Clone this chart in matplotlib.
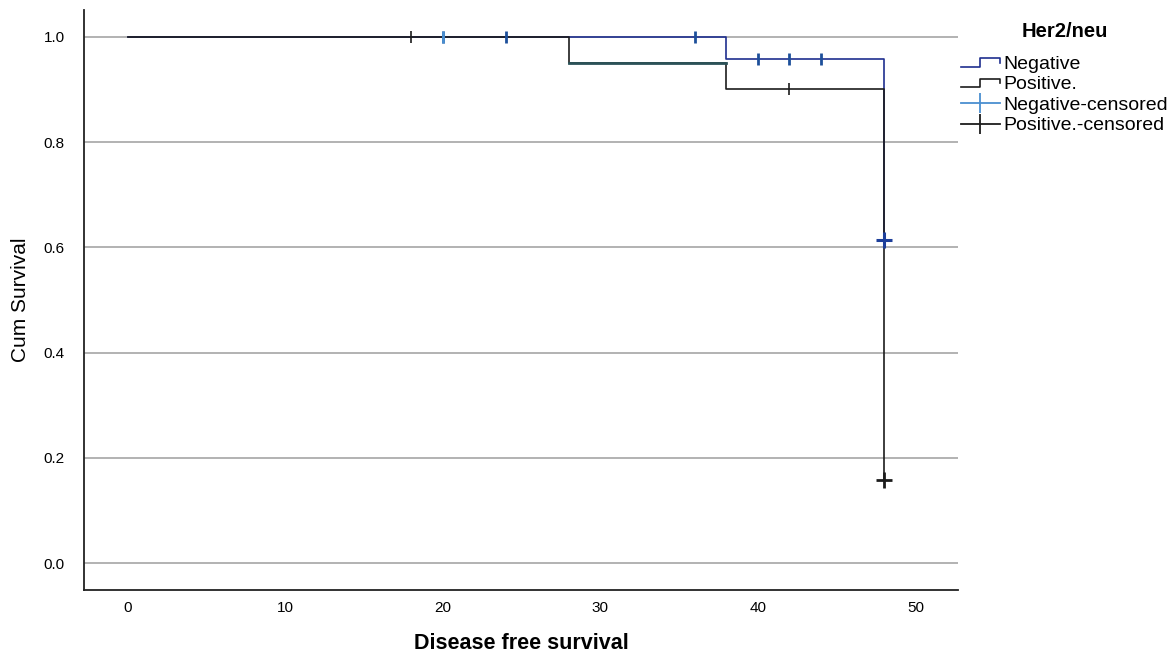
import matplotlib
matplotlib.use("Agg")
import matplotlib.pyplot as plt
from matplotlib.lines import Line2D
from matplotlib.legend_handler import HandlerBase

plt.rcParams['font.family'] = ['Liberation Sans', 'DejaVu Sans']

# Kaplan-Meier steps
neg_times = [0, 38, 48, 48]
neg_surv = [1.0, 0.957, 0.614, 0.614]
pos_times = [0, 28, 38, 48, 48]
pos_surv = [1.0, 0.950, 0.900, 0.158, 0.158]

# censored observations
neg_cens_t = [20, 24, 36, 40, 42, 44]
neg_cens_s = [1.0, 1.0, 1.0, 0.957, 0.957, 0.957]
neg_end_t = [48]
neg_end_s = [0.614]
pos_cens_t = [18, 42]
pos_cens_s = [1.0, 0.900]
pos_end_t = [48]
pos_end_s = [0.158]

xticks = [0, 10, 20, 30, 40, 50]
yticks = [0.0, 0.2, 0.4, 0.6, 0.8, 1.0]

neg_col = '#1f2f8f'
pos_col = '#1c1c1c'
cens_col = '#4a8fd0'


class StepHandler(HandlerBase):
    def create_artists(self, legend, orig, xd, yd, w, h, fontsize, trans):
        y0 = yd + h * 0.15
        y1 = yd + h * 0.8
        xs = [xd, xd + w * 0.5, xd + w * 0.5, xd + w, xd + w]
        ys = [y0, y0, y1, y1, y0 + h * 0.3]
        ln = Line2D(xs, ys, color=orig.get_color(), lw=1.2, transform=trans)
        return [ln]


fig = plt.figure(figsize=(11.73, 6.58), dpi=100)
ax = fig.add_axes([0.0716, 0.1033, 0.745, 0.8815])

for yv in yticks:
    ax.axhline(yv, color='#a6a6a6', lw=1.2, zorder=0)

ax.step(neg_times, neg_surv, where='post', color=neg_col, lw=1.2, zorder=2)
ax.step(pos_times, pos_surv, where='post', color=pos_col, lw=1.2, zorder=3)
# shared segment after first drop looks darker/teal
ax.plot([28, 38], [0.950, 0.950], color='#2b5258', lw=2.0, zorder=3)

ax.plot(neg_cens_t, neg_cens_s, ls='none', marker='|', ms=9, mew=2,
        color='#1d4f9a', zorder=4)
ax.plot([20], [1.0], ls='none', marker='|', ms=9, mew=2, color=cens_col, zorder=5)
ax.plot(pos_cens_t, pos_cens_s, ls='none', marker='|', ms=9, mew=1.2,
        color=pos_col, zorder=4)
ax.plot(neg_end_t, neg_end_s, ls='none', marker='+', ms=11, mew=2.2,
        color='#1d3f9a', zorder=5)
ax.plot(pos_end_t, pos_end_s, ls='none', marker='+', ms=11, mew=2.0,
        color=pos_col, zorder=5)

ax.set_xlim(-2.8, 52.7)
ax.set_ylim(-0.051, 1.051)
ax.set_xticks(xticks)
ax.set_yticks(yticks)
ax.set_yticklabels([f'{v:.1f}' for v in yticks])
ax.tick_params(length=0, labelsize=11)
ax.tick_params(axis='x', pad=8)
ax.tick_params(axis='y', pad=14)
for s in ['top', 'right']:
    ax.spines[s].set_visible(False)
for s in ['left', 'bottom']:
    ax.spines[s].set_linewidth(1.3)
    ax.spines[s].set_color('#222222')

ax.set_xlabel('Disease free survival', fontsize=15.5, fontweight='bold', labelpad=13)
ax.set_ylabel('Cum Survival', fontsize=15, labelpad=10)

h_neg = Line2D([], [], color=neg_col)
h_pos = Line2D([], [], color=pos_col)
h_nc = Line2D([], [], color=cens_col, marker='|', ms=14, mew=1.3, lw=1.3)
h_pc = Line2D([], [], color=pos_col, marker='|', ms=14, mew=1.3, lw=1.3)
leg = fig.legend([h_neg, h_pos, h_nc, h_pc],
                 ['Negative', 'Positive.', 'Negative-censored', 'Positive.-censored'],
                 loc='upper left', bbox_to_anchor=(0.819, 0.966), frameon=False,
                 fontsize=14, title='Her2/neu', handlelength=2.0, handletextpad=0.2,
                 labelspacing=0.15, borderaxespad=0, borderpad=0,
                 handler_map={h_neg: StepHandler(), h_pos: StepHandler()})
leg.get_title().set_fontweight('bold')
leg.get_title().set_fontsize(14.5)
leg._legend_box.sep = 10

fig.savefig('out.png', dpi=100)
